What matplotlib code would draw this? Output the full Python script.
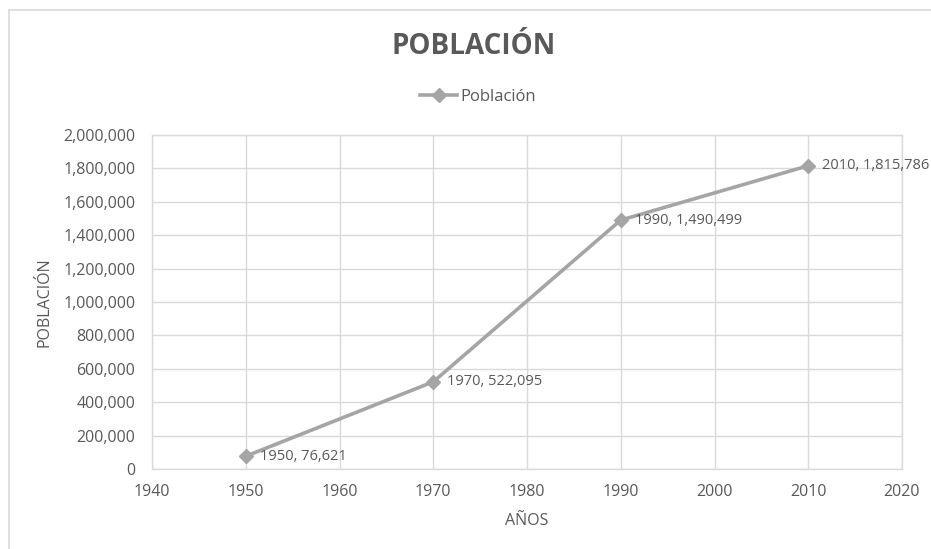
import matplotlib.pyplot as plt
from matplotlib.patches import Rectangle
from matplotlib.ticker import FuncFormatter

# Data
years = [1950, 1970, 1990, 2010]
population = [76621, 522095, 1490499, 1815786]
x_ticks = [1940, 1950, 1960, 1970, 1980, 1990, 2000, 2010, 2020]
y_ticks = [0, 200000, 400000, 600000, 800000, 1000000, 1200000, 1400000,
           1600000, 1800000, 2000000]

text_color = '#595959'
line_color = '#A5A5A5'
grid_color = '#D9D9D9'

plt.rcParams['font.family'] = ['Open Sans', 'DejaVu Sans']

fig = plt.figure(figsize=(9.31, 5.49), dpi=100)
ax = fig.add_axes([152 / 931, 1 - 469 / 549, 750 / 931, 334 / 549])

# outer chart border (cropped at right/bottom in the reference)
fig.patches.append(Rectangle((9 / 931, -0.1), 1.2, 1 - 10 / 549 + 0.1,
                             transform=fig.transFigure, fill=False,
                             edgecolor=grid_color, linewidth=1.2))

ax.plot(years, population, color=line_color, linewidth=2.6, marker='D',
        markersize=7, label='Población', zorder=3)

for x, y in zip(years, population):
    ax.annotate(f'{x}, {y:,}', (x, y), xytext=(10, 0), textcoords='offset points',
                va='center', ha='left', fontsize=10.5, color=text_color,
                annotation_clip=False)

ax.set_xlim(1940, 2020)
ax.set_ylim(0, 2000000)
ax.set_xticks(x_ticks)
ax.set_yticks(y_ticks)
ax.yaxis.set_major_formatter(FuncFormatter(lambda v, p: f'{int(v):,}'))
ax.tick_params(length=0, labelsize=11.5, colors=text_color, pad=12)
ax.tick_params(axis='x', pad=11)

ax.grid(True, color=grid_color, linewidth=1)
for s in ax.spines.values():
    s.set_color(grid_color)
    s.set_linewidth(1)

ax.set_xlabel('AÑOS', fontsize=11.5, color=text_color, labelpad=9)
ax.set_ylabel('POBLACIÓN', fontsize=11.5, color=text_color, labelpad=8)

fig.text(474 / 931, 1 - 47 / 549, 'POBLACIÓN', ha='center', va='center',
         fontsize=20, fontweight='bold', color=text_color)

fig.legend(loc='center', bbox_to_anchor=(478 / 931, 1 - 97 / 549), frameon=False,
           fontsize=12, labelcolor=text_color, handlelength=2.2, handletextpad=0.2)

fig.savefig('out.png', dpi=100)
